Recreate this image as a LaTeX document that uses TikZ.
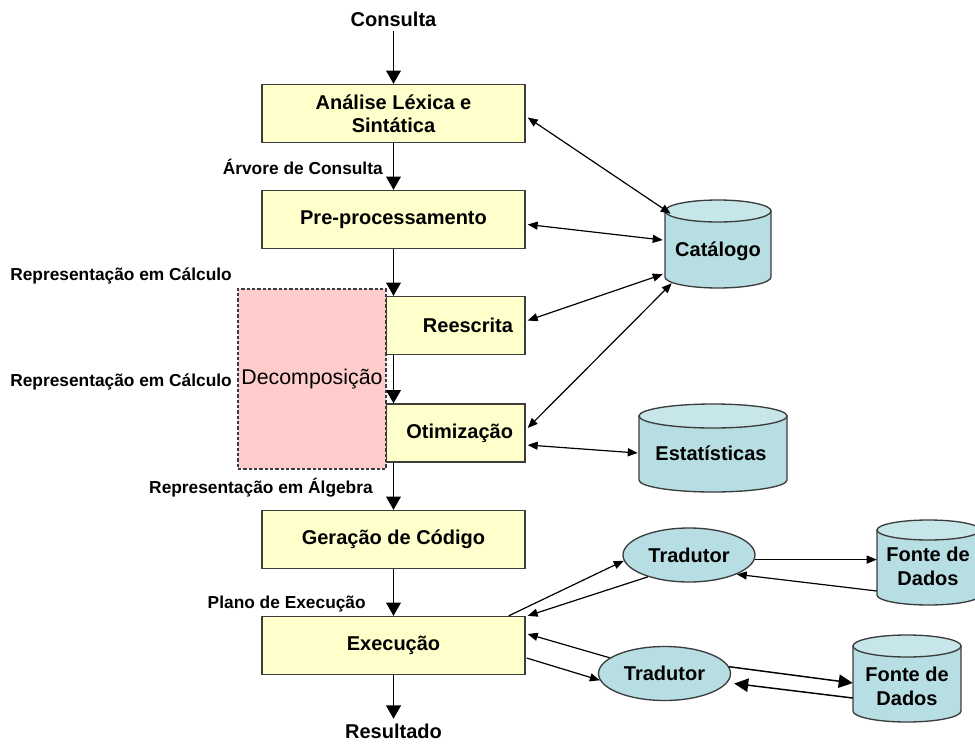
\documentclass[tikz,border=0pt]{standalone}
\usepackage{fontspec}
\setmainfont{Liberation Sans}
\usetikzlibrary{arrows.meta,calc,fit,shapes.geometric}

\definecolor{boxfill}{RGB}{255,255,204}
\definecolor{boxline}{RGB}{60,60,60}
\definecolor{decofill}{RGB}{255,204,204}
\definecolor{cylbody}{RGB}{183,222,226}
\definecolor{cyltop}{RGB}{198,230,233}

% Upright cylinder: node name, left, right, top, bottom, rim half-height (all in px units)
\newcommand{\drawcyl}[6]{%
  \pgfmathsetmacro{\cylrx}{(#3-#2)/2}%
  \pgfmathsetmacro{\cylcx}{(#2+#3)/2}%
  \pgfmathsetmacro{\cylyt}{#4+#6}%
  \pgfmathsetmacro{\cylyb}{#5-#6}%
  \draw[cylline, fill=cylbody] (#2,\cylyt) -- (#2,\cylyb)
    arc[start angle=180, end angle=0, x radius=\cylrx, y radius=#6]
    -- (#3,\cylyt) -- cycle;
  \draw[cylline, fill=cyltop] (\cylcx,\cylyt) ellipse[x radius=\cylrx, y radius=#6];
  \node[inner sep=0pt, fit={(#2,#4) (#3,#5)}] (#1) {};
}

\begin{document}
\begin{tikzpicture}[x=0.75pt, y=-0.75pt,
  stage/.style={draw=boxline, line width=1pt, fill=boxfill, minimum height=43.5pt,
    inner sep=0pt, font=\bfseries\fontsize{15}{17.5}\selectfont, align=center},
  wide/.style={stage, minimum width=197.25pt},
  narrow/.style={stage, text width=86.25pt, inner xsep=9pt, align=right},
  decomp/.style={draw=boxline, line width=0.8pt, dash pattern=on 2.5pt off 1.5pt,
    fill=decofill, minimum width=111pt, minimum height=135pt, inner sep=0pt,
    font=\fontsize{16}{19}\selectfont},
  cylline/.style={draw=boxline, line width=1pt},
  cyltext/.style={font=\bfseries\fontsize{15}{18}\selectfont, align=center, inner sep=0pt},
  trad/.style={ellipse, draw=boxline, line width=1pt, fill=cylbody, minimum width=99pt,
    minimum height=40.5pt, inner sep=0pt, font=\bfseries\fontsize{15}{18}\selectfont},
  term/.style={font=\bfseries\fontsize{15}{18}\selectfont},
  lbl/.style={font=\bfseries\fontsize{13}{15}\selectfont, inner sep=0pt},
  vflow/.style={line width=1.4pt, -{Triangle[width=11pt,length=10pt]}},
  both/.style={line width=0.9pt, {Triangle[width=6pt,length=7.5pt]}-{Triangle[width=6pt,length=7.5pt]}},
  oneway/.style={line width=0.9pt, -{Triangle[width=6pt,length=7.5pt]}},
  bigway/.style={line width=1.1pt, -{Triangle[width=10pt,length=10.5pt]}}
]
\useasboundingbox (0,0) rectangle (975,743);

% processing stages
\node[wide] (ana) at (393.5,113.5) {Análise Léxica e\\Sintática};
\node[wide] (pre) at (393.5,219.5) {Pre-processamento};
\node[narrow] (rees) at (455.5,325.5) {Reescrita};
\node[narrow] (otim) at (455.5,433) {Otimização};
\node[wide] (ger) at (393.5,539.5) {Geração de Código};
\node[wide] (exec) at (393.5,645.5) {Execução};

% decomposition phase
\node[decomp] (deco) at (312,379) {Decomposição};

% input and output
\node[term, anchor=base] (consulta) at (393.5,26) {Consulta};
\node[term, anchor=base] (resultado) at (393.5,738) {Resultado};

% main flow
\draw[vflow] (consulta) -- (ana);
\draw[vflow] (ana) -- (pre);
\draw[vflow] (pre.south) -- (pre.south |- rees.north);
\draw[vflow] (pre.south |- rees.south) -- (pre.south |- otim.north);
\draw[vflow] (pre.south |- otim.south) -- (ger.north);
\draw[vflow] (ger) -- (exec);
\draw[vflow] (exec) -- (resultado);

% intermediate representations
\node[lbl, anchor=base east] (l1) at (383,174) {Árvore de Consulta};
\node[lbl, anchor=base west] (l2) at (10,280) {Representação em Cálculo};
\node[lbl, anchor=base west] (l3) at (10,386) {Representação em Cálculo};
\node[lbl, anchor=base east] (l4) at (373,493) {Representação em Álgebra};
\node[lbl, anchor=base east] (l5) at (366,608) {Plano de Execução};

% metadata stores
\drawcyl{cat}{665}{771}{200}{288}{11}
\drawcyl{est}{639}{787}{404}{492}{12}
\node[cyltext] at (718,251) {Catálogo};
\node[cyltext] at (711,453) {Estatísticas};

% data sources
\drawcyl{fd1}{877}{980}{520}{605}{10}
\drawcyl{fd2}{853}{961}{635}{722}{11}
\node[cyltext] at (928,566) {Fonte de\\Dados};
\node[cyltext] at (907,686) {Fonte de\\Dados};

% translators
\node[trad] (t1) at (689,555) {Tradutor};
\node[trad] (t2) at (664.5,673.5) {Tradutor};

% catalogue and statistics access
\draw[both] ($(ana.east)+(2,4)$) -- ($(cat.north west)+(6,14)$);
\draw[both] ($(pre.east)+(2,5)$) -- ($(cat.west)+(-2,-4)$);
\draw[both] ($(rees.east)+(2,-5)$) -- ($(cat.south west)+(-2,-14)$);
\draw[both] ($(otim.east)+(2,-5)$) -- ($(cat.south west)+(7,-5)$);
\draw[both] ($(otim.east)+(2,12)$) -- ($(est.west)+(-1,5)$);

% execution through translators
\draw[oneway] ($(exec.north east)+(-17,0)$) -- (t1.185);
\draw[oneway] (t1.208) -- ($(exec.north east)+(2,0)$);
\draw[oneway] (t1.356) -- (t1.356 -| fd1.west);
\draw[oneway] ($(fd1.west)+(0,28.5)$) -- (t1.338);
\draw[oneway] (t2.164) -- ($(exec.east)+(2,-11.5)$);
\draw[oneway] ($(exec.east)+(1,12.5)$) -- (t2.186);
\draw[bigway] (t2.6) -- ($(fd2.west)+(0,4.5)$);
\draw[bigway] ($(fd2.west)+(0,19.5)$) -- ($(t2.east)+(3,10)$);
\end{tikzpicture}
\end{document}
